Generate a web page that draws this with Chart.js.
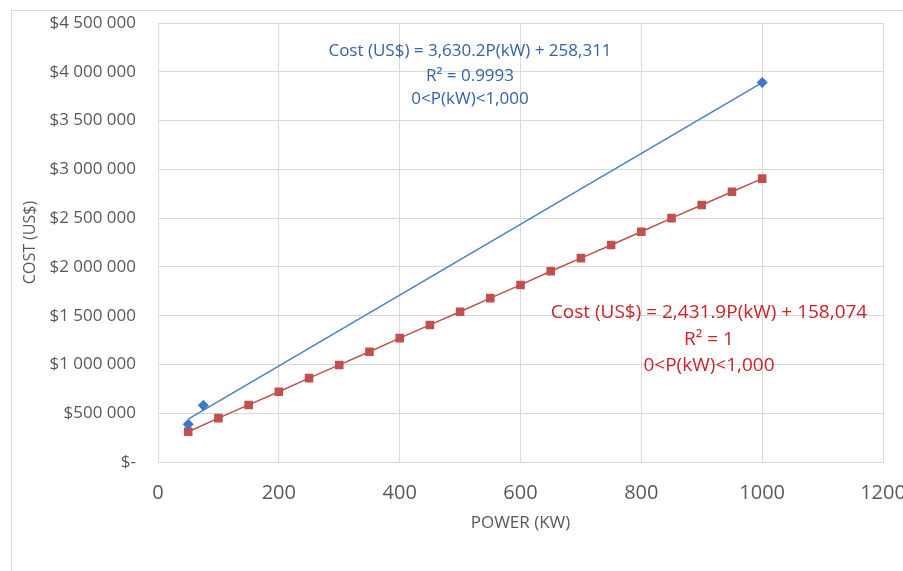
<!DOCTYPE html>
<html>
<head>
<meta charset="utf-8">
<script src="https://cdn.jsdelivr.net/npm/chart.js@4.4.1/dist/chart.umd.min.js"></script>
<style>
html,body{margin:0;padding:0;background:#fff;}
#wrap{position:relative;width:903px;height:571px;overflow:hidden;}
#frame{position:absolute;left:11px;top:10px;width:1000px;height:1000px;border:1px solid #d9d9d9;box-sizing:border-box;}
canvas{position:absolute;left:0;top:0;}
</style>
</head>
<body>
<div id="wrap"><div id="frame"></div><canvas id="c" width="903" height="571"></canvas></div>
<script>
// Blue series (markers) and its linear trendline
const bluePower = [50, 75, 1000];
const blueCost = [386000, 581000, 3890000];
const blueTrendPower = [50, 1000];
const blueTrendCost = [439821, 3888511];
// Red series
const redPower = [50,100,150,200,250,300,350,400,450,500,550,600,650,700,750,800,850,900,950,1000];
const redCost = [310000,450000,585000,720000,860000,995000,1130000,1270000,1405000,1540000,1680000,1815000,1955000,2090000,2225000,2360000,2500000,2635000,2770000,2905000];
// Axis ticks
const xTicks = [0,200,400,600,800,1000,1200];
const yTickLabels = ['$-','$500 000','$1 000 000','$1 500 000','$2 000 000','$2 500 000','$3 000 000','$3 500 000','$4 000 000','$4 500 000'];
const xTitle = 'POWER (KW)';
const yTitle = 'COST (US$)';
// Trendline annotations
const blueNote = ['Cost (US$) = 3,630.2P(kW) + 258,311', 'R² = 0.9993', '0<P(kW)<1,000'];
const redNote = ['Cost (US$) = 2,431.9P(kW) + 158,074', 'R² = 1', '0<P(kW)<1,000'];

const pts = (xs, ys) => xs.map((x, i) => ({x, y: ys[i]}));

const notes = {
  id: 'notes',
  afterDatasetsDraw(chart) {
    const ctx = chart.ctx;
    ctx.save();
    ctx.textAlign = 'center';
    ctx.textBaseline = 'middle';
    ctx.font = '17px "Open Sans"';
    ctx.fillStyle = '#3563a6';
    const by = [51, 76, 99];
    blueNote.forEach((t, i) => ctx.fillText(t, 470, by[i]));
    ctx.font = '19px "Open Sans"';
    ctx.fillStyle = '#cc2229';
    const ry = [313, 340, 366];
    redNote.forEach((t, i) => ctx.fillText(t, 709, ry[i]));
    ctx.restore();
  }
};

new Chart(document.getElementById('c'), {
  type: 'scatter',
  data: {
    datasets: [
      {
        label: 'trend blue',
        data: pts(blueTrendPower, blueTrendCost),
        showLine: true,
        borderColor: '#4a7ec8',
        borderWidth: 1.5,
        pointRadius: 0,
        order: 3
      },
      {
        label: 'blue',
        data: pts(bluePower, blueCost),
        showLine: false,
        pointStyle: 'rectRot',
        pointRadius: 5,
        backgroundColor: '#3d78c8',
        borderColor: '#3d78c8',
        order: 1
      },
      {
        label: 'red',
        data: pts(redPower, redCost),
        showLine: true,
        borderColor: '#c0504d',
        borderWidth: 1.5,
        pointStyle: 'rect',
        pointRadius: 5,
        backgroundColor: '#c0504d',
        pointBorderColor: '#c0504d',
        order: 2
      }
    ]
  },
  options: {
    responsive: false,
    animation: false,
    layout: {padding: {left: 11, top: 23, right: 20, bottom: 0}},
    plugins: {legend: {display: false}, tooltip: {enabled: false}},
    scales: {
      x: {
        type: 'linear',
        min: 0, max: 1200,
        afterBuildTicks(s) { s.ticks = xTicks.map(v => ({value: v})); },
        afterFit(s) { s.height = 109; s.paddingRight = 0; s.paddingLeft = 0; },
        grid: {color: '#d9d9d9', drawTicks: false, lineWidth: 1},
        border: {color: '#d9d9d9'},
        ticks: {color: '#595959', font: {family: 'Open Sans', size: 20}, padding: 19, maxRotation: 0,
          callback: (v) => String(v)},
        title: {display: true, text: xTitle, color: '#595959', font: {family: 'Open Sans', size: 17}, padding: {top: 8, bottom: 38}}
      },
      y: {
        min: 0, max: 4500000,
        afterBuildTicks(s) { s.ticks = yTickLabels.map((_, i) => ({value: i * 500000})); },
        afterFit(s) { s.width = 147; s.paddingTop = 0; },
        grid: {color: '#d9d9d9', drawTicks: false, lineWidth: 1},
        border: {color: '#d9d9d9'},
        ticks: {color: '#595959', font: {family: 'Open Sans', size: 17}, padding: 22,
          callback: (v) => yTickLabels[Math.round(v / 500000)]},
        title: {display: true, text: yTitle, color: '#595959', font: {family: 'Open Sans', size: 16}, padding: {top: 10, bottom: 0}}
      }
    }
  },
  plugins: [notes]
});
</script>
</body>
</html>
